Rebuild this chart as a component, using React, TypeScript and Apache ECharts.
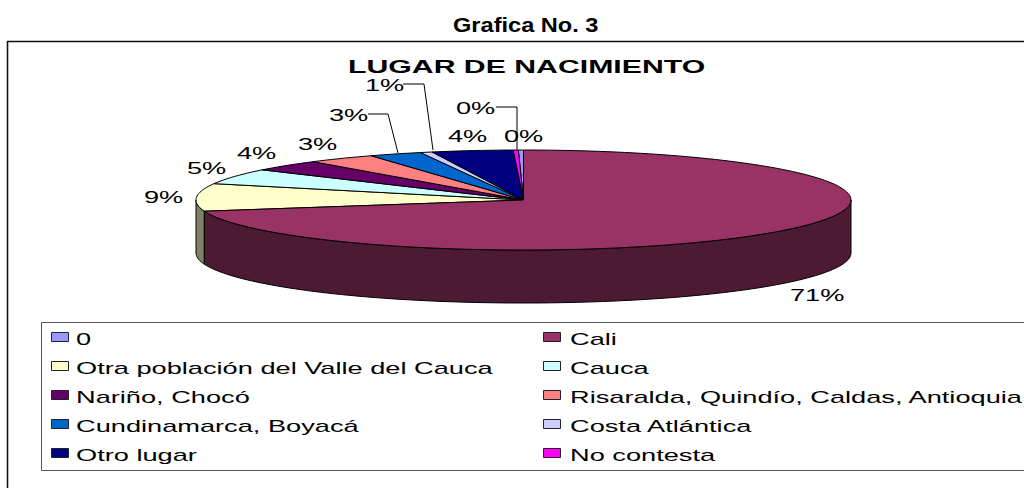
import React, { useEffect, useRef } from "react";
import * as echarts from "echarts";

const categories = [
  "0",
  "Cali",
  "Otra población del Valle del Cauca",
  "Cauca",
  "Nariño, Chocó",
  "Risaralda, Quindío, Caldas, Antioquia",
  "Cundinamarca, Boyacá",
  "Costa Atlántica",
  "Otro lugar",
  "No contesta",
];
const values = [0.25, 71.4, 8.9, 5.0, 3.6, 3.4, 2.6, 0.6, 4.0, 0.25];
const topColors = ["#9999FF", "#993366", "#FFFFCC", "#CCFFFF", "#660066", "#FF8080", "#0066CC", "#CCCCFF", "#000080", "#FF00FF"];
const sideColors = ["#4D4D80", "#4D1A33", "#808066", "#668080", "#330033", "#804040", "#003366", "#666680", "#000040", "#800080"];

const FONT = "'Liberation Sans', Arial, sans-serif";
const CX = 523.5, CY = 200, RX = 327.5, RY = 50, DEPTH = 53;
const total = values.reduce((a, b) => a + b, 0);
const pt = (deg: number, dy = 0): number[] => {
  const r = (deg * Math.PI) / 180;
  return [CX + RX * Math.sin(r), CY - RY * Math.cos(r) + dy];
};
const arcPts = (a: number, b: number, dy = 0) => {
  const n = Math.max(2, Math.ceil(Math.abs(b - a) / 1.5));
  const out: number[][] = [];
  for (let i = 0; i <= n; i++) out.push(pt(a + ((b - a) * i) / n, dy));
  return out;
};

const labelPos: { x: number; y: number; lead?: number[][] }[] = [
  { x: 504, y: 136 },
  { x: 790, y: 295 },
  { x: 144, y: 197 },
  { x: 187, y: 168 },
  { x: 237, y: 153 },
  { x: 298, y: 144 },
  { x: 329, y: 115, lead: [[368, 114], [388, 114], [398, 153]] },
  { x: 365, y: 85, lead: [[403, 84], [424, 84], [433, 150]] },
  { x: 448, y: 136 },
  { x: 456, y: 108, lead: [[496, 107], [517, 107], [517, 150]] },
];

function sliceRender(idx: number) {
  return () => {
    const start = values.slice(0, idx).reduce((a, b) => a + b, 0) * 3.6 * (100 / total) - 0.9;
    const end = start + values[idx] * 3.6 * (100 / total);
    const children: any[] = [];
    const a = Math.max(start, 90), b = Math.min(end, 270);
    if (b > a) {
      children.push({
        type: "polygon",
        shape: { points: [...arcPts(a, b), ...arcPts(b, a, DEPTH)] },
        style: { fill: sideColors[idx], stroke: "#000", lineWidth: 1 },
      });
    }
    children.push({
      type: "polygon",
      shape: { points: [[CX, CY], ...arcPts(start, end)] },
      style: { fill: topColors[idx], stroke: "#000", lineWidth: 1 },
    });
    return { type: "group", children };
  };
}

function labelRender(idx: number) {
  return () => {
    const p = labelPos[idx];
    const children: any[] = [
      {
        type: "text",
        x: p.x,
        y: p.y,
        scaleX: 1.6,
        style: {
          text: `${Math.round(values[idx])}%`,
          fill: "#000",
          font: `17px ${FONT}`,
          textAlign: "left",
          textVerticalAlign: "middle",
        },
      },
    ];
    if (p.lead) {
      children.push({
        type: "polyline",
        shape: { points: p.lead },
        style: { stroke: "#000", fill: "none", lineWidth: 1 },
      });
    }
    return { type: "group", children };
  };
}

const stretchedText = (text: string, x: number, y: number, font: string, scaleX: number, z = 10) => ({
  type: "text",
  x,
  y,
  scaleX,
  z,
  style: { text, fill: "#000", font, textAlign: "left", textVerticalAlign: "middle" },
});

export default function App() {
  const ref = useRef<HTMLDivElement>(null);
  useEffect(() => {
    const chart = echarts.init(ref.current!, null, { renderer: "svg" });
    const legendItems = categories.flatMap((name, i) => {
      const col = i % 2, row = Math.floor(i / 2);
      const y = 338 + row * 29;
      const x = col ? 543 : 51;
      return [
        {
          type: "rect",
          z: 10,
          shape: { x: x + 0.5, y: y - 5.5, width: 17, height: 9 },
          style: { fill: topColors[i], stroke: "#222", lineWidth: 1 },
        },
        stretchedText(name, x + (col ? 27 : 25), y + 1.5, `17px ${FONT}`, 1.6),
      ];
    });
    chart.setOption({
      animation: false,
      backgroundColor: "#fff",
      graphic: [
        { type: "rect", z: -10, shape: { x: 7.5, y: 41.5, width: 1100, height: 500 }, style: { fill: "#fff", stroke: "#111", lineWidth: 1.6 } },
        { type: "rect", z: -9, shape: { x: 41.5, y: 322.5, width: 1100, height: 148 }, style: { fill: "#fff", stroke: "#555", lineWidth: 1 } },
        stretchedText("Grafica No. 3", 453, 25, `bold 20px ${FONT}`, 1.18),
        stretchedText("LUGAR DE NACIMIENTO", 348, 66, `bold 18px ${FONT}`, 1.68),
        ...legendItems,
      ],
      series: [
        ...categories.map((name, i) => ({
          type: "custom",
          name,
          coordinateSystem: "none",
          silent: true,
          data: [values[i]],
          renderItem: sliceRender(i),
          z: i === 1 ? 3 : 2,
        })),
        ...categories.map((_, i) => ({
          type: "custom",
          coordinateSystem: "none",
          silent: true,
          data: [values[i]],
          renderItem: labelRender(i),
          z: 5,
        })),
      ],
    });
    return () => chart.dispose();
  }, []);
  return <div ref={ref} style={{ position: "fixed", left: 0, top: 0, width: 1024, height: 488 }} />;
}
